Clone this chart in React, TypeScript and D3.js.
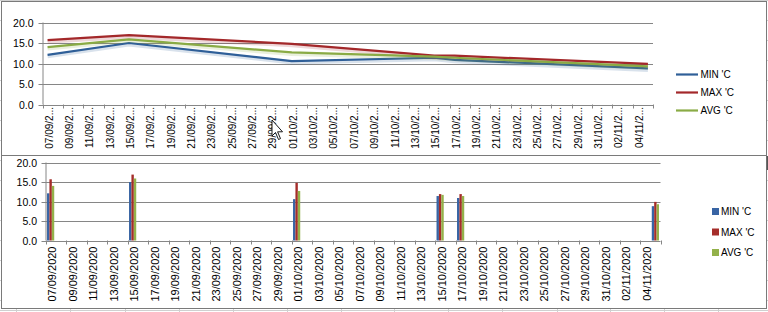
import React from "react";
import * as d3 from "d3";

// ---- data ----
const dataDates = ["07/09/2020", "15/09/2020", "01/10/2020", "15/10/2020", "17/10/2020", "05/11/2020"];
const minVals = [12.1, 15.0, 10.6, 11.4, 10.9, 8.8];
const maxVals = [15.7, 16.9, 14.8, 11.9, 11.9, 9.9];
const avgVals = [14.0, 15.9, 12.7, 11.7, 11.4, 9.3];
const seriesNames = ["MIN 'C", "MAX 'C", "AVG 'C"];
const tickLabels = [
  "07/09/2020", "09/09/2020", "11/09/2020", "13/09/2020", "15/09/2020", "17/09/2020",
  "19/09/2020", "21/09/2020", "23/09/2020", "25/09/2020", "27/09/2020", "29/09/2020",
  "01/10/2020", "03/10/2020", "05/10/2020", "07/10/2020", "09/10/2020", "11/10/2020",
  "13/10/2020", "15/10/2020", "17/10/2020", "19/10/2020", "21/10/2020", "23/10/2020",
  "25/10/2020", "27/10/2020", "29/10/2020", "31/10/2020", "02/11/2020", "04/11/2020",
];
const axisStart = "07/09/2020";
const axisEnd = "06/11/2020"; // exclusive end (last category 05/11/2020)
const yTicks = [0, 5, 10, 15, 20];

const lineColors = ["#2f5f98", "#a3282a", "#8aab45"];
const barColors = ["#3864a4", "#a52d2a", "#93b14a"];

const parse = d3.timeParse("%d/%m/%Y")!;
const FONT = "'Liberation Sans', Arial, sans-serif";
const GRID = "#868686";

const sheetCols = [16, 70, 125, 179, 233, 287, 341, 394, 448, 502, 557, 610, 664, 718];

function Axes({ x, y, l, r, t, b, labelFn, labelFont, labelGap, yLabelX }: any) {
  const ticks = tickLabels.map((s) => parse(s)!).concat([parse(axisEnd)!]);
  return (
    <g>
      {yTicks.map((v) => (
        <g key={v}>
          <line x1={l - 4} x2={r} y1={Math.round(y(v)) + 0.5} y2={Math.round(y(v)) + 0.5} stroke={GRID} />
          <text x={yLabelX} y={y(v)} textAnchor="end" dominantBaseline="central" fontSize={10.5} fontFamily={FONT} fill="#000">
            {d3.format(".1f")(v)}
          </text>
        </g>
      ))}
      <line x1={l + 0.5} x2={l + 0.5} y1={t} y2={b} stroke={GRID} />
      {ticks.map((d, i) => (
        <line key={i} x1={Math.round(x(d)) + 0.5} x2={Math.round(x(d)) + 0.5} y1={b} y2={b + 4} stroke={GRID} />
      ))}
      {tickLabels.map((s, i) => {
        const d = parse(s)!;
        const cx = x(d3.timeHour.offset(d, 12));
        return (
          <text
            key={s}
            transform={`translate(${cx + 1.5},${b + labelGap}) rotate(-90)`}
            textAnchor="end"
            dominantBaseline="central"
            fontSize={labelFont}
            fontFamily={FONT}
            fill="#000"
          >
            {labelFn(s)}
          </text>
        );
      })}
    </g>
  );
}

export default function App() {
  const start = parse(axisStart)!;
  const end = parse(axisEnd)!;
  const dates = dataDates.map((s) => d3.timeHour.offset(parse(s)!, 12));
  const series = [minVals, maxVals, avgVals];

  // top chart
  const tl = 42.5, tr = 653, tt = 22.5, tb = 104.5;
  const xT = d3.scaleTime().domain([start, end]).range([tl, tr]);
  const yT = d3.scaleLinear().domain([0, 20]).range([tb, tt]);
  const line = d3
    .line<[Date, number]>()
    .x((d) => xT(d[0]))
    .y((d) => yT(d[1]));

  // bottom chart
  const bl = 45.5, br = 660.5, bt = 162.5, bb = 240.5;
  const xB = d3.scaleTime().domain([start, end]).range([bl, br]);
  const yB = d3.scaleLinear().domain([0, 20]).range([bb, bt]);
  const barW = 2.4;

  return (
    <svg width={768} height={312} style={{ position: "absolute", left: 0, top: 0, background: "#fff" }}>
      {/* sheet grid */}
      {sheetCols.map((c) => (
        <line key={c} x1={c + 0.5} x2={c + 0.5} y1={0} y2={312} stroke="#d0d0d0" />
      ))}
      {d3.range(0, 312, 20).map((r) => (
        <line key={r} x1={0} x2={768} y1={r + 0.5} y2={r + 0.5} stroke="#d0d0d0" />
      ))}
      <line x1={0} x2={768} y1={310.5} y2={310.5} stroke="#d0d0d0" />

      {/* top chart */}
      <rect x={1.5} y={1.5} width={765} height={154} fill="#fff" stroke="#7a7a7a" />
      <Axes x={xT} y={yT} l={tl} r={tr} t={tt} b={tb} labelFont={10} labelGap={2.5} yLabelX={33.5}
        labelFn={(s: string) => s.slice(0, 7) + "..."} />
      {series.map((vals, si) => {
        const pts = dates.map((d, i) => [d, vals[i]] as [Date, number]);
        return (
          <g key={si}>
            <path d={line(pts)!} fill="none" stroke={lineColors[si]} strokeOpacity={0.18} strokeWidth={4} transform="translate(0,1.5)" />
            <path d={line(pts)!} fill="none" stroke={lineColors[si]} strokeWidth={2.2} strokeLinejoin="round" />
          </g>
        );
      })}
      {seriesNames.map((n, i) => (
        <g key={n}>
          <line x1={676} x2={698} y1={74.5 + i * 18} y2={74.5 + i * 18} stroke={lineColors[i]} strokeWidth={2.2} />
          <text x={700.5} y={74.5 + i * 18} dominantBaseline="central" fontSize={10} fontFamily={FONT} fill="#000">
            {n}
          </text>
        </g>
      ))}

      {/* bottom chart */}
      <rect x={1.5} y={155.5} width={765} height={153} fill="#fff" stroke="#7a7a7a" />
      <Axes x={xB} y={yB} l={bl} r={br} t={bt} b={bb} labelFont={11} labelGap={6} yLabelX={37}
        labelFn={(s: string) => s} />
      {series.map((vals, si) => (
        <g key={si}>
          {dates.map((d, i) => (
            <rect
              key={i}
              x={xB(d) - 1.5 * barW + si * barW}
              y={yB(vals[i])}
              width={barW}
              height={yB(0) - yB(vals[i])}
              fill={barColors[si]}
            />
          ))}
        </g>
      ))}
      {seriesNames.map((n, i) => (
        <g key={n}>
          <rect x={712} y={208 + i * 20.5} width={7} height={7} fill={barColors[i]} />
          <text x={721} y={211.5 + i * 20.5} dominantBaseline="central" fontSize={10} fontFamily={FONT} fill="#000">
            {n}
          </text>
        </g>
      ))}
      <line x1={767.5} x2={767.5} y1={156} y2={170} stroke="#555" strokeWidth={1.5} />

      {/* mouse cursor */}
      <path
        d="M272,120 L272,136 L275.5,132.5 L278.5,139.5 L280.5,138.6 L277.6,131.8 L282.5,131.8 Z"
        fill="#fff"
        stroke="#000"
        strokeWidth={0.9}
        strokeLinejoin="miter"
      />
    </svg>
  );
}
